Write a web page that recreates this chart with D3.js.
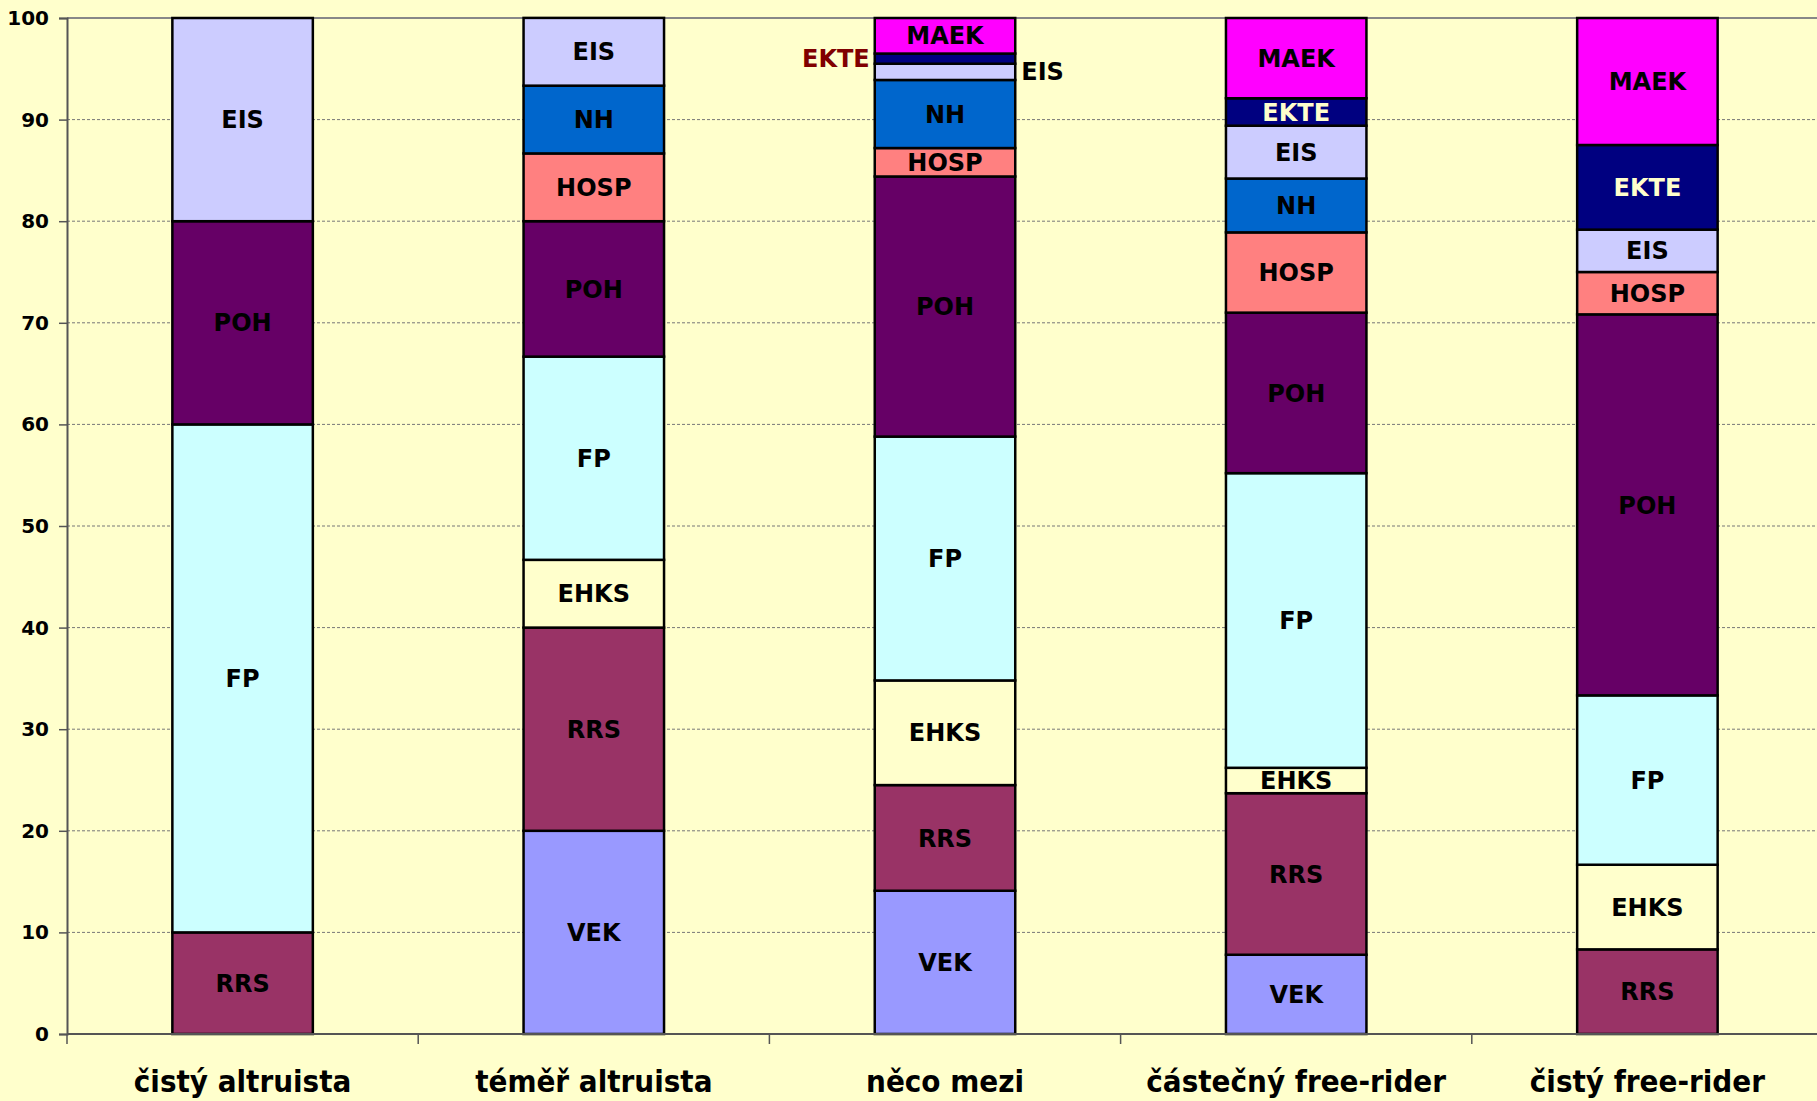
<!DOCTYPE html>
<html>
<head>
<meta charset="utf-8">
<script src="https://cdn.jsdelivr.net/npm/d3@7"></script>
<style>
  html, body { margin: 0; padding: 0; background: #FFFFCC; overflow: hidden; }
  svg { display: block; }
</style>
</head>
<body>
<svg id="chart" width="1817" height="1101"></svg>
<script>
// ---- data ----
const categories = ["čistý altruista", "téměř altruista", "něco mezi", "částečný free-rider", "čistý free-rider"];
const seriesNames = ["VEK", "RRS", "EHKS", "FP", "POH", "HOSP", "NH", "EIS", "EKTE", "MAEK"];
const VEK  = [0,     20,    14.1, 7.8,  0];
const RRS  = [10,    20,    10.4, 15.9, 8.33];
const EHKS = [0,     6.67,  10.3, 2.5,  8.33];
const FP   = [50,    20,    24.0, 29.0, 16.67];
const POH  = [20,    13.33, 25.6, 15.8, 37.5];
const HOSP = [0,     6.67,  2.8,  7.9,  4.17];
const NH   = [0,     6.67,  6.7,  5.3,  0];
const EIS  = [20,    6.67,  1.6,  5.2,  4.17];
const EKTE = [0,     0,     1.0,  2.7,  8.33];
const MAEK = [0,     0,     3.5,  7.9,  12.5];
const yTicks = [0, 10, 20, 30, 40, 50, 60, 70, 80, 90, 100];

const seriesValues = [VEK, RRS, EHKS, FP, POH, HOSP, NH, EIS, EKTE, MAEK];
const colors = {
  VEK: "#9999FF", RRS: "#993366", EHKS: "#FFFFCC", FP: "#CCFFFF", POH: "#660066",
  HOSP: "#FF8080", NH: "#0066CC", EIS: "#CCCCFF", EKTE: "#000080", MAEK: "#FF00FF"
};

// ---- layout ----
const pLeft = 67, pRight = 1823, pTop = 18, pBottom = 1034;
const svg = d3.select("#chart");
svg.append("rect").attr("width", 1817).attr("height", 1101).attr("fill", "#FFFFCC");

const x = d3.scaleBand().domain(categories).range([pLeft, pRight]).paddingInner(0.6).paddingOuter(0.3);
const y = d3.scaleLinear().domain([0, 100]).range([pBottom, pTop]);

// gridlines
svg.append("g").selectAll("line").data(yTicks.filter(t => t > 0 && t < 100)).join("line")
  .attr("x1", pLeft).attr("x2", pRight)
  .attr("y1", d => y(d)).attr("y2", d => y(d))
  .attr("stroke", "#777")
  .attr("stroke-width", 1)
  .attr("stroke-dasharray", "3,2");
svg.append("line").attr("x1", pLeft).attr("x2", pRight).attr("y1", y(100)).attr("y2", y(100))
  .attr("stroke", "#888").attr("stroke-width", 2);

// stack
const table = categories.map((c, i) => {
  const o = { cat: c };
  seriesNames.forEach((s, k) => o[s] = seriesValues[k][i]);
  return o;
});
const stacked = d3.stack().keys(seriesNames)(table);

const gBars = svg.append("g");
stacked.forEach(layer => {
  const key = layer.key;
  layer.forEach((d, i) => {
    const v = d[1] - d[0];
    if (v <= 0) return;
    gBars.append("rect")
      .attr("x", x(categories[i]))
      .attr("y", y(d[1]))
      .attr("width", x.bandwidth())
      .attr("height", y(d[0]) - y(d[1]))
      .attr("fill", colors[key])
      .attr("stroke", "#000")
      .attr("stroke-width", 2.5);
  });
});

// labels
const gLab = svg.append("g")
  .attr("font-family", "'DejaVu Sans', Verdana, sans-serif")
  .attr("font-weight", "bold")
  .attr("font-size", 24);
stacked.forEach(layer => {
  const key = layer.key;
  layer.forEach((d, i) => {
    const v = d[1] - d[0];
    if (v <= 0) return;
    const cy = y((d[0] + d[1]) / 2);
    let tx = x(categories[i]) + x.bandwidth() / 2, anchor = "middle", fill = "#000";
    if (key === "EKTE") fill = "#FFFFCC";
    if (v < 2) {
      if (key === "EKTE") { tx = x(categories[i]) - 5; anchor = "end"; fill = "#800000"; }
      else { tx = x(categories[i]) + x.bandwidth() + 6; anchor = "start"; fill = "#000"; }
    }
    gLab.append("text")
      .attr("x", tx).attr("y", cy)
      .attr("dy", "0.36em")
      .attr("text-anchor", anchor)
      .attr("fill", fill)
      .text(key);
  });
});

// axes
const yAxis = d3.axisLeft(y).tickValues(yTicks).tickSize(8).tickPadding(10);
const gy = svg.append("g").attr("transform", `translate(${pLeft},0)`).call(yAxis);
gy.select(".domain").attr("stroke", "#555").attr("stroke-width", 2);
gy.selectAll(".tick line").attr("stroke", "#555").attr("stroke-width", 1.5);
gy.selectAll(".tick text")
  .attr("font-family", "'DejaVu Sans', Verdana, sans-serif")
  .attr("font-weight", "bold").attr("font-size", 20).attr("fill", "#000");

// x axis baseline and category boundary ticks
svg.append("line").attr("x1", pLeft).attr("x2", pRight).attr("y1", pBottom).attr("y2", pBottom)
  .attr("stroke", "#555").attr("stroke-width", 2);
const step = x.step();
const boundaries = d3.range(categories.length + 1).map(k => pLeft + k * step);
svg.append("g").selectAll("line").data(boundaries).join("line")
  .attr("x1", d => d).attr("x2", d => d)
  .attr("y1", pBottom).attr("y2", pBottom + 10)
  .attr("stroke", "#555").attr("stroke-width", 1.5);

svg.append("g").selectAll("text").data(categories).join("text")
  .attr("x", d => x(d) + x.bandwidth() / 2)
  .attr("y", 1092)
  .attr("text-anchor", "middle")
  .attr("font-family", "'DejaVu Sans Condensed', 'DejaVu Sans', sans-serif")
  .attr("font-stretch", "condensed")
  .attr("font-weight", "bold")
  .attr("font-size", 31)
  .attr("fill", "#000")
  .text(d => d);
</script>
</body>
</html>
